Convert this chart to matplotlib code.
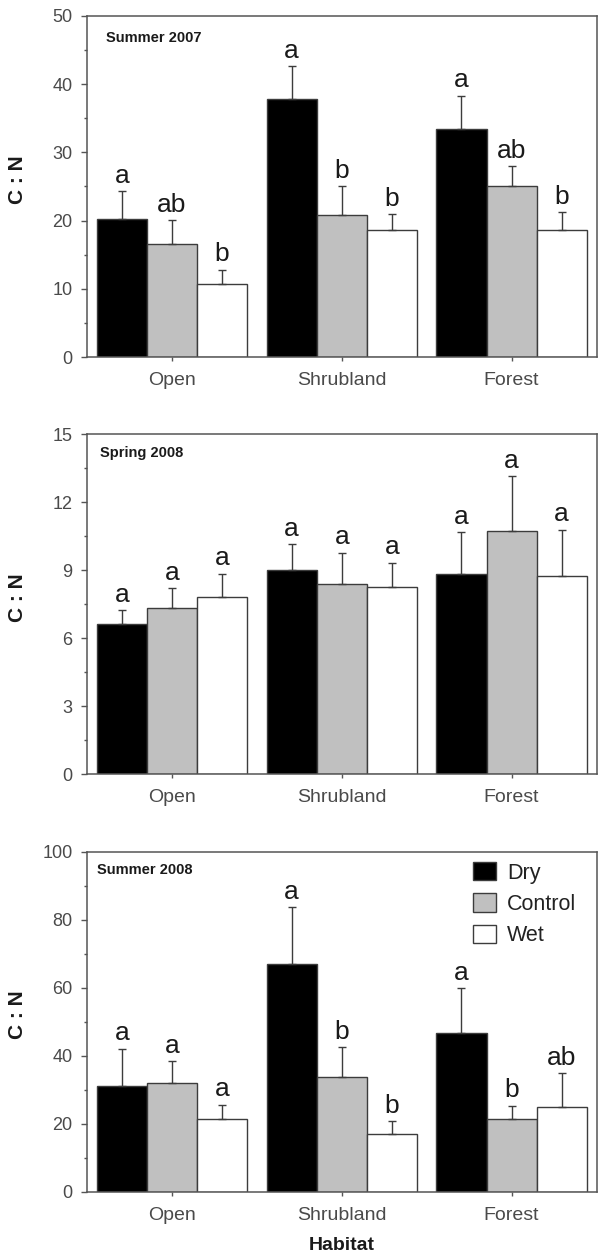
import numpy as np
import matplotlib
matplotlib.use("Agg")
import matplotlib.pyplot as plt
from matplotlib.ticker import MultipleLocator

plt.rcParams['font.family'] = ['Liberation Sans', 'DejaVu Sans']

habitats = ['Open', 'Shrubland', 'Forest']
treatments = ['Dry', 'Control', 'Wet']
seasons = ['Summer 2007', 'Spring 2008', 'Summer 2008']

# mean C:N per season, one row per treatment (Dry, Control, Wet)
cn_sum07 = [[20.2, 37.8, 33.4], [16.5, 20.8, 25.0], [10.7, 18.6, 18.6]]
cn_spr08 = [[6.63, 9.0, 8.82], [7.31, 8.38, 10.73], [7.81, 8.25, 8.75]]
cn_sum08 = [[31.3, 67.1, 46.7], [32.1, 33.7, 21.6], [21.6, 17.1, 25.0]]

# standard errors (upper bars only)
se_sum07 = [[4.1, 4.8, 4.9], [3.6, 4.2, 3.0], [2.1, 2.3, 2.6]]
se_spr08 = [[0.59, 1.13, 1.85], [0.88, 1.38, 2.42], [1.03, 1.07, 2.03]]
se_sum08 = [[10.8, 16.7, 13.3], [6.3, 8.9, 3.8], [4.1, 3.7, 10.0]]

# significance letters
let_sum07 = [['a', 'a', 'a'], ['ab', 'b', 'ab'], ['b', 'b', 'b']]
let_spr08 = [['a', 'a', 'a'], ['a', 'a', 'a'], ['a', 'a', 'a']]
let_sum08 = [['a', 'a', 'a'], ['a', 'b', 'b'], ['a', 'b', 'ab']]

ymax = [50, 15, 100]
ystep = [10, 3, 20]

colors = ['black', '#c0c0c0', 'white']
edge = '#3c3c3c'
spine_col = '#555555'
tick_col = '#4a4a4a'

fig = plt.figure(figsize=(5.98, 12.58), dpi=100)
rects = [[0.1455, 0.7162, 0.852, 0.2711],
         [0.1455, 0.3847, 0.852, 0.2703],
         [0.1455, 0.0525, 0.852, 0.2703]]
title_pos = [(0.037, 0.935), (0.025, 0.943), (0.019, 0.946)]

means_all = [cn_sum07, cn_spr08, cn_sum08]
se_all = [se_sum07, se_spr08, se_sum08]
let_all = [let_sum07, let_spr08, let_sum08]

x = np.arange(len(habitats))
w = 0.295

for p in range(3):
    ax = fig.add_axes(rects[p])
    for t in range(3):
        m = np.array(means_all[p][t])
        s = np.array(se_all[p][t])
        xs = x + (t - 1) * w
        ax.bar(xs, m, w, color=colors[t], edgecolor=edge, linewidth=1.0,
               label=treatments[t], zorder=2,
               yerr=[np.zeros_like(s), s],
               error_kw=dict(ecolor=edge, elinewidth=1.0, capsize=3, capthick=1.0, zorder=3))
        for i in range(3):
            ax.annotate(let_all[p][t][i], (xs[i], m[i] + s[i]), xytext=(0, 6),
                        textcoords='offset points', ha='center', va='baseline',
                        fontsize=19, color='#1a1a1a')

    ax.set_xlim(-0.5, 2.5)
    ax.set_ylim(0, ymax[p])
    ax.yaxis.set_major_locator(MultipleLocator(ystep[p]))
    ax.yaxis.set_minor_locator(MultipleLocator(ystep[p] / 2))
    ax.set_xticks(x)
    ax.set_xticklabels(habitats)
    ax.tick_params(axis='y', which='major', length=4, width=1, color=spine_col,
                   labelsize=13, labelcolor=tick_col, pad=6.5)
    ax.tick_params(axis='y', which='minor', length=2.5, width=1, color=spine_col)
    ax.tick_params(axis='x', length=3, width=1, color=spine_col,
                   labelsize=14, labelcolor=tick_col, pad=8)
    for sp in ax.spines.values():
        sp.set_color(spine_col)
        sp.set_linewidth(1.1)

    ax.set_ylabel('C : N', fontsize=15, fontweight='bold', color='#1a1a1a')
    ax.yaxis.set_label_coords(-0.118, 0.52)
    ax.text(title_pos[p][0], title_pos[p][1], seasons[p], transform=ax.transAxes,
            fontsize=10.5, fontweight='bold', va='center', ha='left', color='#1a1a1a')

    if p == 2:
        ax.set_xlabel('Habitat', fontsize=14, fontweight='bold', color='#1a1a1a', labelpad=9)
        ax.legend(loc='upper left', bbox_to_anchor=(0.757, 0.97), frameon=False,
                  fontsize=15.5, borderpad=0, borderaxespad=0, handlelength=1.1,
                  handleheight=0.93, handletextpad=0.5, labelspacing=0.45,
                  labelcolor='#222222')

fig.savefig('out.png', dpi=100)
